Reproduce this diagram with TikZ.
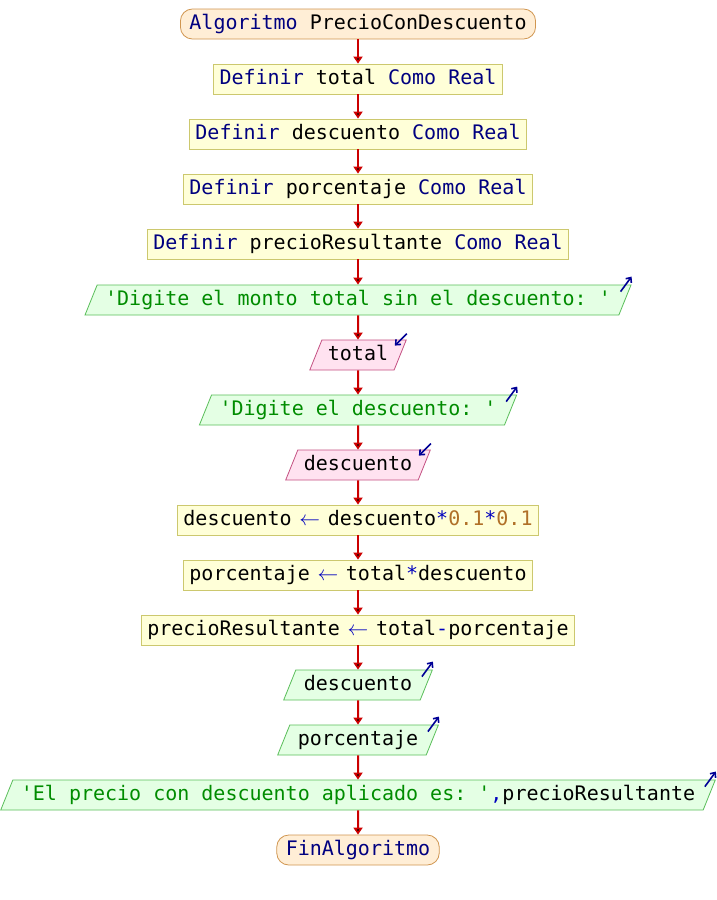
\documentclass[tikz,border=0pt]{standalone}
\usepackage{fontspec}
\setmonofont{DejaVu Sans Mono}
\usetikzlibrary{shapes.geometric,arrows.meta,calc}

\definecolor{clavecol}{RGB}{0,0,128}
\definecolor{cadenacol}{RGB}{0,140,0}
\definecolor{numerocol}{RGB}{176,112,40}
\definecolor{opercol}{RGB}{0,0,190}
\definecolor{procfondo}{RGB}{255,255,216}
\definecolor{procborde}{RGB}{204,200,110}
\definecolor{termfondo}{RGB}{255,238,214}
\definecolor{termborde}{RGB}{208,150,80}
\definecolor{salfondo}{RGB}{228,255,228}
\definecolor{salborde}{RGB}{90,190,90}
\definecolor{entfondo}{RGB}{255,226,240}
\definecolor{entborde}{RGB}{196,80,130}
\definecolor{flechacol}{RGB}{204,0,0}
\definecolor{iconocol}{RGB}{0,0,150}

\newcommand{\clave}[1]{\textcolor{clavecol}{#1}}
\newcommand{\cadena}[1]{\textcolor{cadenacol}{#1}}
\newcommand{\numero}[1]{\textcolor{numerocol}{#1}}
\newcommand{\oper}[1]{\textcolor{opercol}{#1}}
\newcommand{\asigna}{\oper{\makebox[12pt]{$\leftarrow$}}}

\tikzset{
  base/.style={font=\ttfamily\fontsize{20}{24}\selectfont, text height=15pt, text depth=4pt, inner ysep=5.5pt, line width=0.8pt},
  proceso/.style={base, shape=rectangle, draw=procborde, fill=procfondo, inner xsep=6pt},
  terminal/.style={base, shape=rectangle, rounded corners=12pt, draw=termborde, fill=termfondo, inner xsep=9pt},
  salida/.style={base, shape=trapezium, trapezium left angle=68, trapezium right angle=112, draw=salborde, fill=salfondo, inner xsep=8pt},
  entrada/.style={base, shape=trapezium, trapezium left angle=68, trapezium right angle=112, draw=entborde, fill=entfondo, inner xsep=6pt},
  flecha/.style={-{Triangle[width=9pt,length=7pt]}, draw=flechacol, line width=2pt},
  icono/.style={-{Straight Barb[length=4pt,width=7pt]}, draw=iconocol, line width=1.6pt}
}

\begin{document}
\begin{tikzpicture}[x=1pt,y=-1pt]
  \useasboundingbox[fill=white] (0,0) rectangle (716,900);

  \node[terminal] (ini) at (358,24) {\clave{Algoritmo} PrecioConDescuento};
  \node[proceso] (d1) at (358,79) {\clave{Definir} total \clave{Como Real}};
  \node[proceso] (d2) at (358,134) {\clave{Definir} descuento \clave{Como Real}};
  \node[proceso] (d3) at (358,189) {\clave{Definir} porcentaje \clave{Como Real}};
  \node[proceso] (d4) at (358,244) {\clave{Definir} precioResultante \clave{Como Real}};
  \node[salida] (s1) at (358,300) {\cadena{'Digite el monto total sin el descuento: '}};
  \node[entrada] (e1) at (358,355) {total};
  \node[salida] (s2) at (358,410) {\cadena{'Digite el descuento: '}};
  \node[entrada] (e2) at (358,465) {descuento};
  \node[proceso] (a1) at (358,520) {descuento \asigna{} descuento\oper{*}\numero{0.1}\oper{*}\numero{0.1}};
  \node[proceso] (a2) at (358,575) {porcentaje \asigna{} total\oper{*}descuento};
  \node[proceso] (a3) at (358,630) {precioResultante \asigna{} total\oper{-}porcentaje};
  \node[salida] (s3) at (358,685) {descuento};
  \node[salida] (s4) at (358,740) {porcentaje};
  \node[salida] (s5) at (358,795) {\cadena{'El precio con descuento aplicado es: '}\oper{,}precioResultante};
  \node[terminal] (fin) at (358,850) {\clave{FinAlgoritmo}};

  \path [flecha](ini) edge (d1);
  \path [flecha](d1) edge (d2);
  \path [flecha](d2) edge (d3);
  \path [flecha](d3) edge (d4);
  \path [flecha](d4) edge (s1);
  \path [flecha](s1) edge (e1);
  \path [flecha](e1) edge (s2);
  \path [flecha](s2) edge (e2);
  \path [flecha](e2) edge (a1);
  \path [flecha](a1) edge (a2);
  \path [flecha](a2) edge (a3);
  \path [flecha](a3) edge (s3);
  \path [flecha](s3) edge (s4);
  \path [flecha](s4) edge (s5);
  \path [flecha](s5) edge (fin);

  \foreach \s in {s1,s2,s3,s4,s5}
    \draw[icono] ($(\s.top right corner)+(-11,7)$) -- ($(\s.top right corner)+(0,-8)$);
  \foreach \e in {e1,e2}
    \draw[icono] ($(\e.top right corner)+(0,-6)$) -- ($(\e.top right corner)+(-12,6)$);
\end{tikzpicture}
\end{document}
